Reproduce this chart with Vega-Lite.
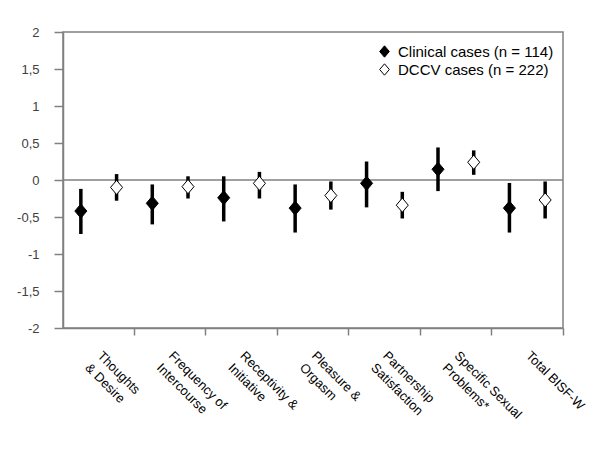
{
  "$schema": "https://vega.github.io/schema/vega-lite/v6.json",
  "width": 500,
  "height": 296,
  "autosize": "none",
  "padding": {"left": 63, "top": 32, "right": 37, "bottom": 122},
  "background": "white",
  "config": {
    "view": {"stroke": "#808080", "strokeWidth": 1.5},
    "font": "Liberation Sans"
  },
  "data": {
    "values": [
      {"cat": "Thoughts|& Desire", "series": "Clinical cases (n = 114)", "mean": -0.42, "lo": -0.73, "hi": -0.12},
      {"cat": "Thoughts|& Desire", "series": "DCCV cases (n = 222)", "mean": -0.10, "lo": -0.28, "hi": 0.08},
      {"cat": "Frequency of|Intercourse", "series": "Clinical cases (n = 114)", "mean": -0.315, "lo": -0.60, "hi": -0.06},
      {"cat": "Frequency of|Intercourse", "series": "DCCV cases (n = 222)", "mean": -0.09, "lo": -0.25, "hi": 0.05},
      {"cat": "Receptivity &|Initiative", "series": "Clinical cases (n = 114)", "mean": -0.24, "lo": -0.56, "hi": 0.05},
      {"cat": "Receptivity &|Initiative", "series": "DCCV cases (n = 222)", "mean": -0.045, "lo": -0.25, "hi": 0.11},
      {"cat": "Pleasure &|Orgasm", "series": "Clinical cases (n = 114)", "mean": -0.38, "lo": -0.71, "hi": -0.06},
      {"cat": "Pleasure &|Orgasm", "series": "DCCV cases (n = 222)", "mean": -0.21, "lo": -0.40, "hi": -0.02},
      {"cat": "Partnership|Satisfaction", "series": "Clinical cases (n = 114)", "mean": -0.045, "lo": -0.37, "hi": 0.25},
      {"cat": "Partnership|Satisfaction", "series": "DCCV cases (n = 222)", "mean": -0.34, "lo": -0.52, "hi": -0.16},
      {"cat": "Specific Sexual|Problems*", "series": "Clinical cases (n = 114)", "mean": 0.145, "lo": -0.15, "hi": 0.44},
      {"cat": "Specific Sexual|Problems*", "series": "DCCV cases (n = 222)", "mean": 0.24, "lo": 0.07, "hi": 0.40},
      {"cat": "Total BISF-W", "series": "Clinical cases (n = 114)", "mean": -0.38, "lo": -0.71, "hi": -0.04},
      {"cat": "Total BISF-W", "series": "DCCV cases (n = 222)", "mean": -0.27, "lo": -0.52, "hi": -0.02}
    ]
  },
  "encoding": {
    "x": {
      "field": "cat", "type": "nominal", "sort": null,
      "scale": {"paddingInner": 0, "paddingOuter": 0},
      "axis": {
        "title": null, "bandPosition": 1, "labelAngle": 45, "labelAlign": "left", "labelBaseline": "top",
        "labelOffset": 5, "labelPadding": 14, "tickSize": 7, "labelExpr": "split(datum.label, '|')",
        "labelFontSize": 13, "labelColor": "black", "labelLineHeight": 17, "labelFont": "Liberation Sans",
        "domainColor": "#808080", "domainWidth": 1.5, "tickColor": "#808080", "tickWidth": 1.5,
        "labelBound": false, "labelOverlap": false, "labelLimit": 0
      }
    },
    "xOffset": {
      "field": "series", "type": "nominal",
      "scale": {"domain": ["Clinical cases (n = 114)", "DCCV cases (n = 222)"], "paddingInner": 0, "paddingOuter": 0}
    },
    "y": {
      "type": "quantitative",
      "scale": {"domain": [-2, 2], "nice": false},
      "title": null,
      "axis": {
        "title": null, "values": [-2, -1.5, -1, -0.5, 0, 0.5, 1, 1.5, 2],
        "labelExpr": "(datum.value < 0 ? '-' : '') + replace(format(abs(datum.value), '~g'), '.', ',')",
        "tickSize": 9, "labelPadding": 15, "labelFontSize": 13, "labelColor": "#404040",
        "domainColor": "#808080", "domainWidth": 1.5, "tickColor": "#808080", "tickWidth": 1.5, "grid": false
      }
    }
  },
  "layer": [
    {
      "data": {"values": [{}]},
      "mark": {"type": "rule", "color": "#808080", "strokeWidth": 1.5},
      "encoding": {
        "x": null, "xOffset": null,
        "y": {"datum": 0, "type": "quantitative", "scale": {"domain": [-2, 2], "nice": false}, "title": null,
          "axis": {
            "title": null, "values": [-2, -1.5, -1, -0.5, 0, 0.5, 1, 1.5, 2],
            "labelExpr": "(datum.value < 0 ? '-' : '') + replace(format(abs(datum.value), '~g'), '.', ',')",
            "tickSize": 9, "labelPadding": 15, "labelFontSize": 13, "labelColor": "#404040",
            "domainColor": "#808080", "domainWidth": 1.5, "tickColor": "#808080", "tickWidth": 1.5, "grid": false
          }
        }
      }
    },
    {
      "mark": {"type": "rule", "color": "black", "strokeWidth": 3.5},
      "encoding": {
        "y": {"field": "lo", "type": "quantitative", "title": null},
        "y2": {"field": "hi"}
      }
    },
    {
      "mark": {"type": "point", "shape": "M-0.85,0L0,-1L0.85,0L0,1Z", "filled": true, "stroke": "black", "strokeWidth": 1, "size": 200, "opacity": 1},
      "encoding": {
        "y": {"field": "mean", "type": "quantitative", "title": null},
        "fill": {
          "field": "series", "type": "nominal",
          "scale": {"domain": ["Clinical cases (n = 114)", "DCCV cases (n = 222)"], "range": ["black", "white"]},
          "legend": {
            "title": null, "orient": "none", "legendX": 314, "legendY": 12,
            "labelFontSize": 15, "labelColor": "black", "labelFont": "Liberation Sans",
            "symbolType": "M-0.85,0L0,-1L0.85,0L0,1Z", "symbolSize": 130,
            "symbolStrokeColor": "black", "symbolStrokeWidth": 1, "rowPadding": 1, "labelOffset": 6
          }
        }
      }
    }
  ]
}
